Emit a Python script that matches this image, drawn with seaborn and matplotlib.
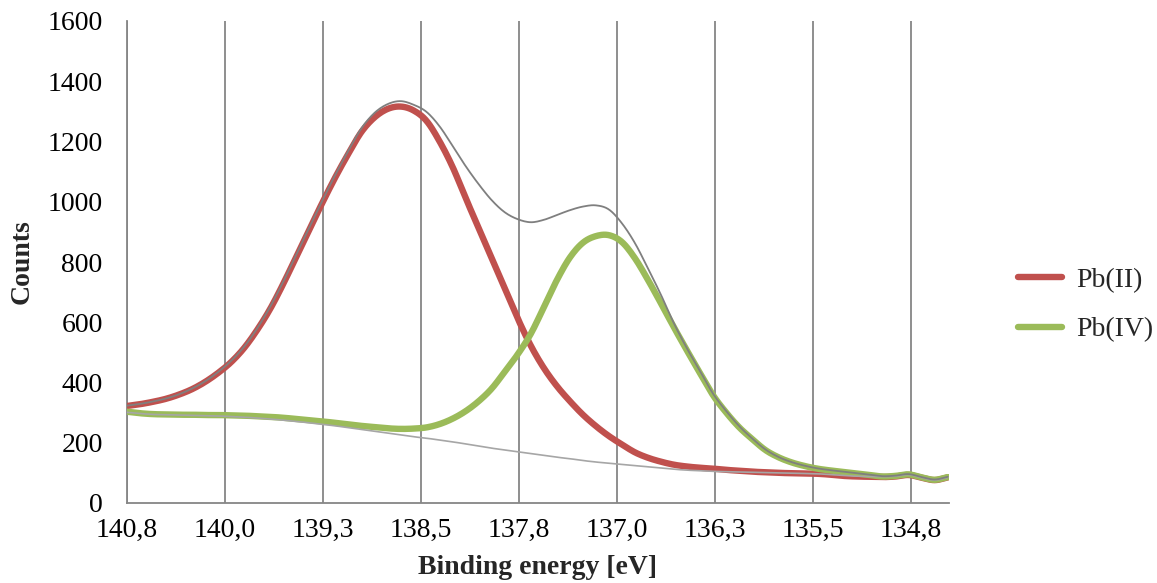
import numpy as np
import pandas as pd
import matplotlib
matplotlib.use("Agg")
import matplotlib.pyplot as plt
import seaborn as sns

# Binding energy grid (eV), descending
energy = np.round(np.arange(140.8, 134.45, -0.1), 2)

pb2 = [322, 328, 336, 346, 360, 378, 402, 432, 468, 515,
       575, 645, 728, 818, 908, 997, 1082, 1160, 1232, 1280,
       1308, 1316, 1303, 1268, 1200, 1115, 1012, 912, 812, 712,
       612, 522, 448, 388, 338, 293, 255, 222, 194, 168,
       150, 137, 127, 121, 117, 114, 110, 107, 104, 102,
       100, 99, 98, 97, 94, 90, 88, 87, 86, 88,
       93, 84, 76, 85]

pb4 = [303, 298, 295, 294, 293, 293, 292, 292, 291, 290,
       288, 286, 283, 279, 275, 271, 266, 261, 256, 252,
       248, 246, 247, 251, 262, 280, 305, 338, 380, 436,
       494, 562, 650, 740, 815, 864, 886, 889, 866, 812,
       740, 662, 582, 505, 430, 357, 300, 251, 212, 176,
       152, 135, 123, 114, 108, 103, 98, 93, 88, 90,
       95, 85, 77, 86]

background = [301, 297, 294, 293, 292, 291, 290, 289, 287, 285,
              282, 279, 275, 271, 266, 261, 256, 250, 244, 238,
              232, 226, 220, 215, 209, 203, 196, 189, 182, 176,
              170, 164, 158, 152, 147, 141, 136, 132, 128, 124,
              120, 116, 112, 109, 107, 105, 104, 103, 102, 101,
              100, 99, 98, 97, 94, 91, 89, 88, 87, 89,
              94, 84, 76, 85]

envelope = [323, 329, 337, 347, 361, 380, 404, 435, 472, 519,
            580, 652, 735, 825, 915, 1004, 1090, 1170, 1244, 1295,
            1324, 1334, 1322, 1298, 1250, 1185, 1118, 1058, 1005, 965,
            942, 932, 940, 956, 972, 984, 988, 974, 928, 862,
            778, 690, 595, 512, 437, 362, 305, 255, 214, 178,
            153, 136, 124, 115, 109, 104, 99, 94, 89, 91,
            96, 86, 78, 87]

x_tick_labels = ["140,8", "140,0", "139,3", "138,5", "137,8",
                 "137,0", "136,3", "135,5", "134,8"]
y_ticks = [0, 200, 400, 600, 800, 1000, 1200, 1400, 1600]


def smoothed(x, y, steps=12):
    """Catmull-Rom pass through the points, like a spreadsheet 'smoothed line'."""
    x = np.asarray(x, float)
    y = np.asarray(y, float)
    px = np.concatenate([[2 * x[0] - x[1]], x, [2 * x[-1] - x[-2]]])
    py = np.concatenate([[2 * y[0] - y[1]], y, [2 * y[-1] - y[-2]]])
    t = np.linspace(0, 1, steps, endpoint=False)
    xs, ys = [], []
    for i in range(1, len(px) - 2):
        for p, out in ((px, xs), (py, ys)):
            p0, p1, p2, p3 = p[i - 1], p[i], p[i + 1], p[i + 2]
            out.append(0.5 * ((2 * p1) + (-p0 + p2) * t
                              + (2 * p0 - 5 * p1 + 4 * p2 - p3) * t ** 2
                              + (-p0 + 3 * p1 - 3 * p2 + p3) * t ** 3))
    xs.append([x[-1]])
    ys.append([y[-1]])
    return np.concatenate(xs), np.concatenate(ys)


series = {"Pb(II)": pb2, "Pb(IV)": pb4, "background": background, "envelope": envelope}
frames = []
for name, vals in series.items():
    sx, sy = smoothed(energy, vals)
    frames.append(pd.DataFrame({"energy": sx, "counts": sy, "series": name}))
df = pd.concat(frames, ignore_index=True)

sns.set_style("white")
plt.rcParams["font.family"] = ["Liberation Serif", "DejaVu Serif"]

W, H = 1157, 583
fig = plt.figure(figsize=(W / 100, H / 100), dpi=100)
ax = fig.add_axes([127 / W, (H - 503) / H, (949 - 127) / W, (503 - 21) / H])

grid_color = "#868686"
styles = {
    "Pb(II)": dict(color="#C0504D", linewidth=4.6, zorder=3),
    "Pb(IV)": dict(color="#9BBB59", linewidth=4.6, zorder=4),
    "background": dict(color="#A6A6A6", linewidth=1.2, zorder=5),
    "envelope": dict(color="#7F7F7F", linewidth=1.3, zorder=6),
}
for name, st in styles.items():
    sns.lineplot(data=df[df["series"] == name], x="energy", y="counts", ax=ax,
                 sort=False, legend=False, label=name,
                 solid_capstyle="round", **st)

# Category-style tick spacing along the reversed energy axis
tick_step = 0.752
x_ticks = energy[0] - tick_step * np.arange(len(x_tick_labels))
ax.set_xlim(energy[0], 134.49)
ax.set_ylim(0, 1600)
ax.set_xticks(x_ticks)
ax.set_xticklabels(x_tick_labels)
ax.set_yticks(y_ticks)
ax.set_yticklabels([str(v) for v in y_ticks])

for x in x_ticks:
    ax.axvline(x, color=grid_color, linewidth=1.3, zorder=1)

for side in ["top", "right"]:
    ax.spines[side].set_visible(False)
for side in ["left", "bottom"]:
    ax.spines[side].set_color(grid_color)
    ax.spines[side].set_linewidth(1.3)

ax.tick_params(axis="both", direction="inout", length=11, width=1.3,
               color=grid_color, labelsize=20, labelcolor="black")
ax.tick_params(axis="x", pad=5)
ax.tick_params(axis="y", pad=12)

ax.set_xlabel("Binding energy [eV]", fontsize=20, fontweight="bold")
ax.set_ylabel("Counts", fontsize=20, fontweight="bold")
ax.xaxis.set_label_coords(0.5, -(567 - 503) / (503 - 21), transform=ax.transAxes)
ax.yaxis.set_label_coords(-(127 - 22) / (949 - 127), 0.5, transform=ax.transAxes)
ax.xaxis.label.set_va("center")
ax.yaxis.label.set_va("center")

lines = ax.get_lines()[:2]
fig.legend(handles=lines, labels=["Pb(II)", "Pb(IV)"],
           loc="center left", bbox_to_anchor=(1018 / W, (H - 305) / H),
           frameon=False, fontsize=20, handlelength=1.6, handletextpad=0.5,
           labelspacing=0.85, borderpad=0, borderaxespad=0)

fig.savefig("out.png", dpi=100)
